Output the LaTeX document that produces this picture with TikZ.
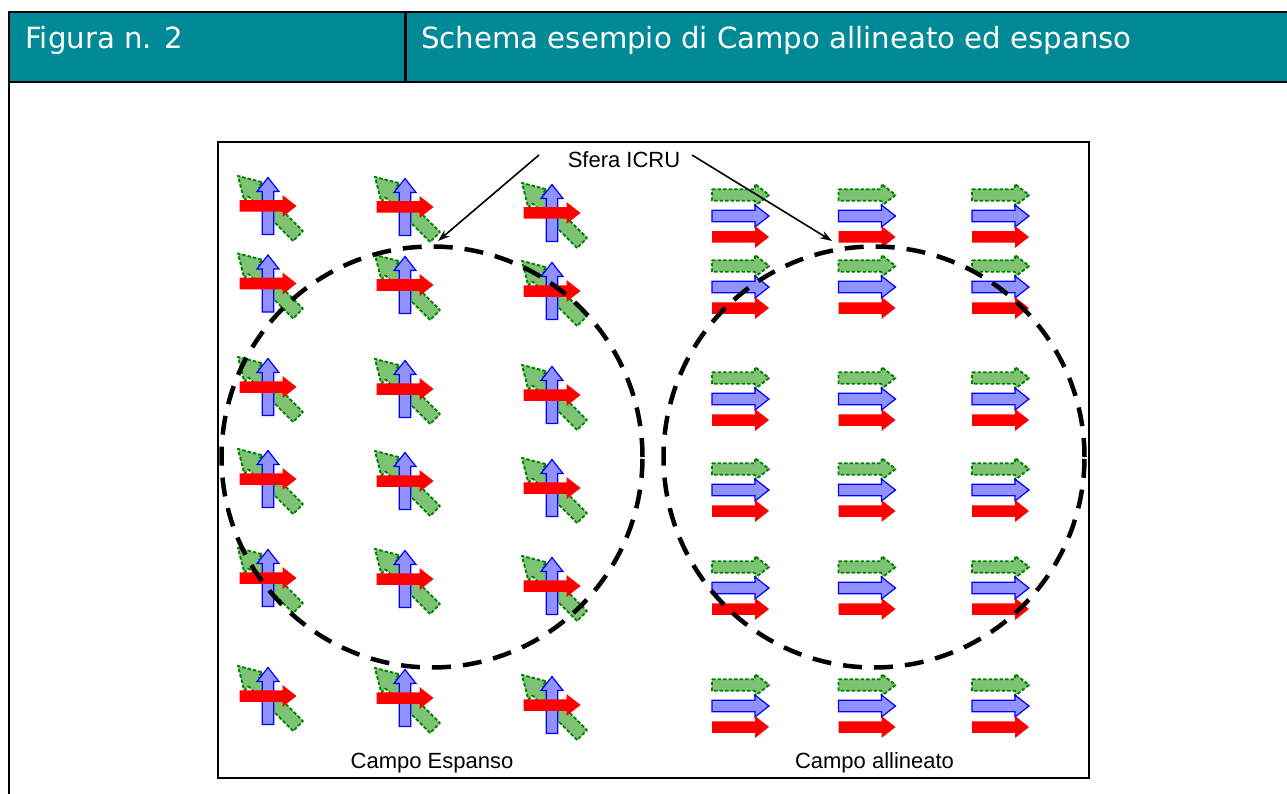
\documentclass[tikz,border=0pt]{standalone}
\usepackage{fontspec}
\setmainfont{Liberation Sans}
\newfontfamily\hdrfont{DejaVu Sans}
\usetikzlibrary{arrows.meta,patterns}
\definecolor{hdr}{RGB}{0,137,150}
\definecolor{gfill}{RGB}{125,195,115}
\definecolor{gdark}{RGB}{0,128,0}
\definecolor{bfill}{RGB}{145,145,255}
\definecolor{bdark}{RGB}{0,0,255}
\definecolor{rfill}{RGB}{255,0,0}
\tikzset{
  fatarrow/.pic={\path[pic actions] (-28.5,-5.75) -- (14.5,-5.75) -- (14.5,-11) -- (28.5,0) -- (14.5,11) -- (14.5,5.75) -- (-28.5,5.75) -- cycle;},
  diagarrow/.pic={\path[pic actions] (-42.5,-7) -- (20.5,-7) -- (20.5,-13) -- (42.5,0) -- (20.5,13) -- (20.5,7) -- (-42.5,7) -- cycle;},
  greenarr/.style={fill=gfill, postaction={pattern=crosshatch dots, pattern color=white!60!gfill}, draw=gdark, line width=1.9pt, dash pattern=on 3.5pt off 2pt, line join=round},
  bluearr/.style={fill=bfill, draw=bdark, line width=1.2pt, line join=miter},
  redarr/.style={fill=rfill},
  hdrtext/.style={anchor=base west, text=white, inner sep=0pt, font=\hdrfont\fontsize{29.2}{35}\selectfont},
  lbl/.style={anchor=base, inner sep=0pt, font=\fontsize{22}{26}\selectfont},
  sphere/.style={circle, draw, line width=4.5pt, dash pattern=on 19pt off 12pt, minimum size=421pt, inner sep=0pt},
  ptr/.style={line width=1.6pt, -{Stealth[length=12pt,width=8pt]}},
  frameline/.style={line width=2.6pt},
}
\newcommand{\expgroup}[2]{%
  \pic[greenarr, rotate=135] at (#1,#2) {diagarrow};
  \pic[bluearr, rotate=90] at (#1,#2) {fatarrow};
  \pic[redarr] at (#1,#2) {fatarrow};
}
\newcommand{\aligngroup}[2]{%
  \pic[greenarr] at (#1,#2-21) {fatarrow};
  \pic[bluearr] at (#1,#2) {fatarrow};
  \pic[redarr] at (#1,#2+21) {fatarrow};
}
\begin{document}
\begin{tikzpicture}[x=1pt,y=-1pt]
\useasboundingbox (0,0) rectangle (1287,794);
% header
\fill[hdr] (9,12) rectangle (1295,82);
\draw[frameline] (1295,12) -- (9,12) -- (9,800);
\draw[frameline] (9,82) -- (1295,82);
\draw[frameline] (405.5,12) -- (405.5,82);
\node[hdrtext] (fig) at (25,49) {Figura n. 2};
\node[hdrtext] (title) at (421,49) {Schema esempio di Campo allineato ed espanso};
% inner frame
\draw[frameline] (218,142) rectangle (1089,778);
% expanded field arrows
\foreach \y in {206,283.5,387,479,578,696} {\expgroup{268}{\y}}
\foreach \y in {207,285,389,481,579,698} {\expgroup{405}{\y}}
\foreach \y in {213,291,395,488,586,705} {\expgroup{552}{\y}}
% aligned field arrows
\foreach \x in {740.5,867,1000.5} {
  \foreach \y in {216,287,399,490,588,706} {\aligngroup{\x}{\y}}
}
% spheres
\node[sphere] (cL) at (432,457) {};
\node[sphere] (cR) at (874,457) {};
% labels
\node[lbl] (sfera) at (624,168) {Sfera ICRU};
\node[lbl] (lblE) at (432,768) {Campo Espanso};
\node[lbl] (lblA) at (874.5,768) {Campo allineato};
% pointers
\coordinate (pLs) at (539,155);
\coordinate (pLe) at (438,241);
\coordinate (pRs) at (692,155);
\coordinate (pRe) at (832,241);
\draw[ptr] (pLs) -- (pLe);
\draw[ptr] (pRs) -- (pRe);
\end{tikzpicture}
\end{document}
